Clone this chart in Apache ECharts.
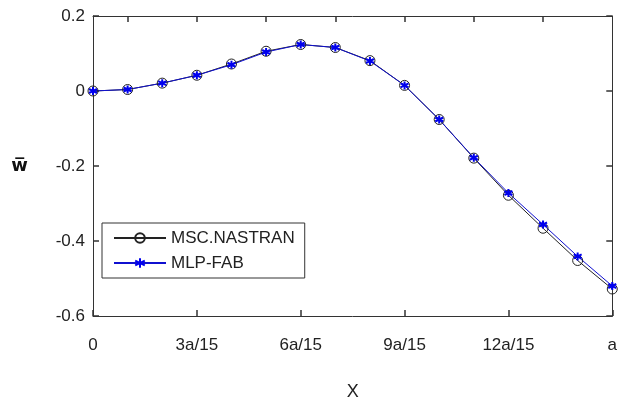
<!DOCTYPE html>
<html>
<head>
<meta charset="utf-8">
<script src="https://cdn.jsdelivr.net/npm/echarts@6/dist/echarts.min.js"></script>
<style>html,body{margin:0;padding:0;background:#fff;}#c{width:620px;height:406px;}</style>
</head>
<body>
<div id="c"></div>
<script>
var xValues = [0, 1, 2, 3, 4, 5, 6, 7, 8, 9, 10, 11, 12, 13, 14, 15];
var mscNastran = [0, 0.004, 0.021, 0.042, 0.072, 0.106, 0.124, 0.116, 0.081, 0.015, -0.076, -0.179, -0.278, -0.366, -0.452, -0.528];
var mlpFab = [0, 0.004, 0.021, 0.042, 0.070, 0.104, 0.124, 0.116, 0.080, 0.015, -0.076, -0.178, -0.272, -0.356, -0.441, -0.520];
var xTickLabels = {0: '0', 3: '3a/15', 6: '6a/15', 9: '9a/15', 12: '12a/15', 15: 'a'};
var yTickLabels = {'0.2': '0.2', '0': '0', '-0.2': '-0.2', '-0.4': '-0.4', '-0.6': '-0.6'};
var topTicks = [1, 3, 5, 7, 9, 11, 13];
var seriesNames = ['MSC.NASTRAN', 'MLP-FAB'];

function pairs(xs, ys) { return xs.map(function (x, i) { return [x, ys[i]]; }); }

var font = 'Liberation Sans, Arial, sans-serif';
var axisColor = '#333';
var tickLen = 6;
var chart = echarts.init(document.getElementById('c'), null, {renderer: 'canvas'});
chart.setOption({
  animation: false,
  backgroundColor: '#fff',
  grid: {left: 93, right: 2, top: 16, bottom: 88},
  legend: {
    left: 102, top: 223,
    orient: 'vertical',
    data: seriesNames,
    itemWidth: 52, itemHeight: 12, itemGap: 5,
    padding: [5, 10, 5, 11],
    borderColor: '#333', borderWidth: 1,
    textStyle: {fontFamily: font, fontSize: 17, color: '#222', lineHeight: 20}
  },
  xAxis: [{
    type: 'value', min: 0, max: 15, interval: 3, position: 'bottom',
    axisLine: {show: true, onZero: false, lineStyle: {color: axisColor, width: 1}},
    axisTick: {show: true, inside: true, length: tickLen, lineStyle: {color: axisColor, width: 1.5}},
    axisLabel: {fontFamily: font, fontSize: 17, color: '#222', margin: 21,
      formatter: function (v) { return xTickLabels[v] !== undefined ? xTickLabels[v] : ''; }},
    splitLine: {show: false},
    name: 'X', nameLocation: 'middle', nameGap: 67,
    nameTextStyle: {fontFamily: font, fontSize: 18, color: '#222'}
  }, {
    type: 'category', data: xValues.map(String), boundaryGap: false, position: 'top',
    axisLine: {show: true, onZero: false, lineStyle: {color: axisColor, width: 1}},
    axisTick: {show: true, inside: true, length: tickLen, alignWithLabel: true,
      interval: function (idx) { return topTicks.indexOf(xValues[idx]) >= 0; },
      lineStyle: {color: axisColor, width: 1.5}},
    axisLabel: {show: false},
    splitLine: {show: false}
  }],
  yAxis: [{
    type: 'value', min: -0.6, max: 0.2, interval: 0.2, position: 'left',
    axisLine: {show: true, onZero: false, lineStyle: {color: axisColor, width: 1}},
    axisTick: {show: true, inside: true, length: tickLen, lineStyle: {color: axisColor, width: 1.5}},
    axisLabel: {fontFamily: font, fontSize: 17, color: '#222', margin: 8,
      formatter: function (v) { var k = String(Math.round(v * 10) / 10); return yTickLabels[k] !== undefined ? yTickLabels[k] : k; }},
    splitLine: {show: false},
    name: 'w\u0305', nameLocation: 'middle', nameRotate: 0, nameGap: 65,
    nameTextStyle: {fontFamily: 'DejaVu Sans, sans-serif', fontSize: 18, fontWeight: 'bold', color: '#111'}
  }, {
    type: 'value', min: -0.6, max: 0.2, interval: 0.2, position: 'right',
    axisLine: {show: true, onZero: false, lineStyle: {color: axisColor, width: 1}},
    axisTick: {show: true, inside: true, length: tickLen, lineStyle: {color: axisColor, width: 1.5}},
    axisLabel: {show: false},
    splitLine: {show: false}
  }],
  series: [{
    name: seriesNames[0], type: 'line', xAxisIndex: 0, yAxisIndex: 0,
    data: pairs(xValues, mscNastran),
    symbol: 'circle', symbolSize: 10, showAllSymbol: true,
    lineStyle: {color: '#222', width: 1},
    itemStyle: {color: 'rgba(0,0,0,0)', borderColor: '#222', borderWidth: 1}
  }, {
    name: seriesNames[1], type: 'line', xAxisIndex: 0, yAxisIndex: 0,
    data: pairs(xValues, mlpFab),
    symbol: 'path://M0,-10L0,10M-8.66,-5L8.66,5M-8.66,5L8.66,-5', symbolSize: 8, showAllSymbol: true,
    lineStyle: {color: '#1010d0', width: 1},
    itemStyle: {color: 'rgba(0,0,0,0)', borderColor: '#0000ee', borderWidth: 2}
  }]
});
</script>
</body>
</html>
